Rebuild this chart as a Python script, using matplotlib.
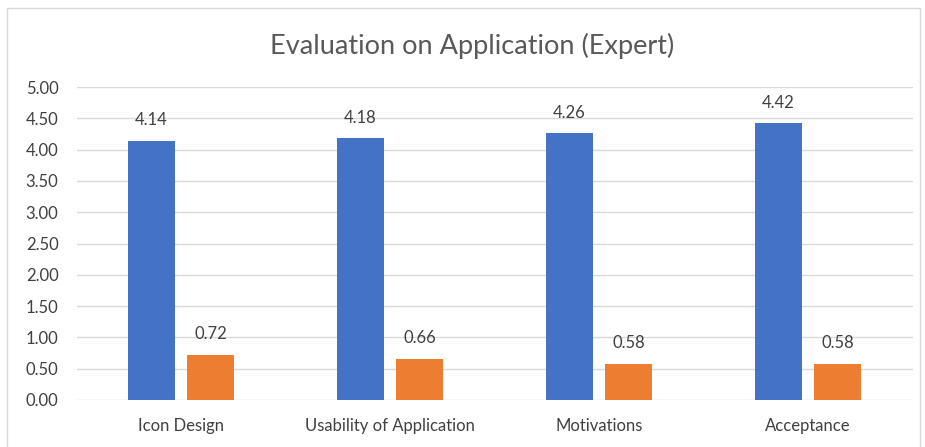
import matplotlib
matplotlib.use("Agg")
import matplotlib.pyplot as plt
from matplotlib.patches import Rectangle
import numpy as np

categories = ["Icon Design", "Usability of Application", "Motivations", "Acceptance"]
series_a = [4.14, 4.18, 4.26, 4.42]
series_b = [0.72, 0.66, 0.58, 0.58]
yticks = [0.0, 0.5, 1.0, 1.5, 2.0, 2.5, 3.0, 3.5, 4.0, 4.5, 5.0]

plt.rcParams['font.family'] = ['Lato', 'DejaVu Sans']

W, H = 925, 447
fig = plt.figure(figsize=(W/100, H/100), dpi=100)
ax = fig.add_axes([76.5/W, 1-400/H, (912.5-76.5)/W, (400-87)/H])

x = np.arange(len(categories))
bw = 0.225
off = 0.141
blue = "#4472C4"
orange = "#ED7D31"
ax.bar(x - off, series_a, bw, color=blue, zorder=3)
ax.bar(x + off, series_b, bw, color=orange, zorder=3)

for xi, v in zip(x - off, series_a):
    ax.annotate(f"{v:.2f}", (xi, v), xytext=(0, 9), textcoords="offset points",
                ha="center", va="bottom", fontsize=12, color="#404040")
for xi, v in zip(x + off, series_b):
    ax.annotate(f"{v:.2f}", (xi, v), xytext=(0, 9), textcoords="offset points",
                ha="center", va="bottom", fontsize=12, color="#404040")

ax.set_xlim(-0.5, len(categories) - 0.5)
ax.set_ylim(0, 5)
ax.set_yticks(yticks)
ax.set_yticklabels([f"{t:.2f}" for t in yticks], fontsize=12, color="#404040")
ax.set_xticks(x)
ax.set_xticklabels(categories, fontsize=12, color="#404040")
ax.tick_params(axis="both", length=0)
ax.tick_params(axis="x", pad=13)
ax.tick_params(axis="y", pad=13)
ax.grid(axis="y", color="#D9D9D9", linewidth=1, zorder=0)
for s in ax.spines.values():
    s.set_visible(False)

fig.text(472/W, 1-46/H, "Evaluation on Application (Expert)", ha="center", va="center",
         fontsize=19.5, color="#595959")

fig.patches.append(Rectangle((7/W, -0.1), (920-7)/W, 1.1 - 8/H, transform=fig.transFigure,
                             fill=False, edgecolor="#D9D9D9", linewidth=1))

fig.savefig("out.png", dpi=100, facecolor="white")
